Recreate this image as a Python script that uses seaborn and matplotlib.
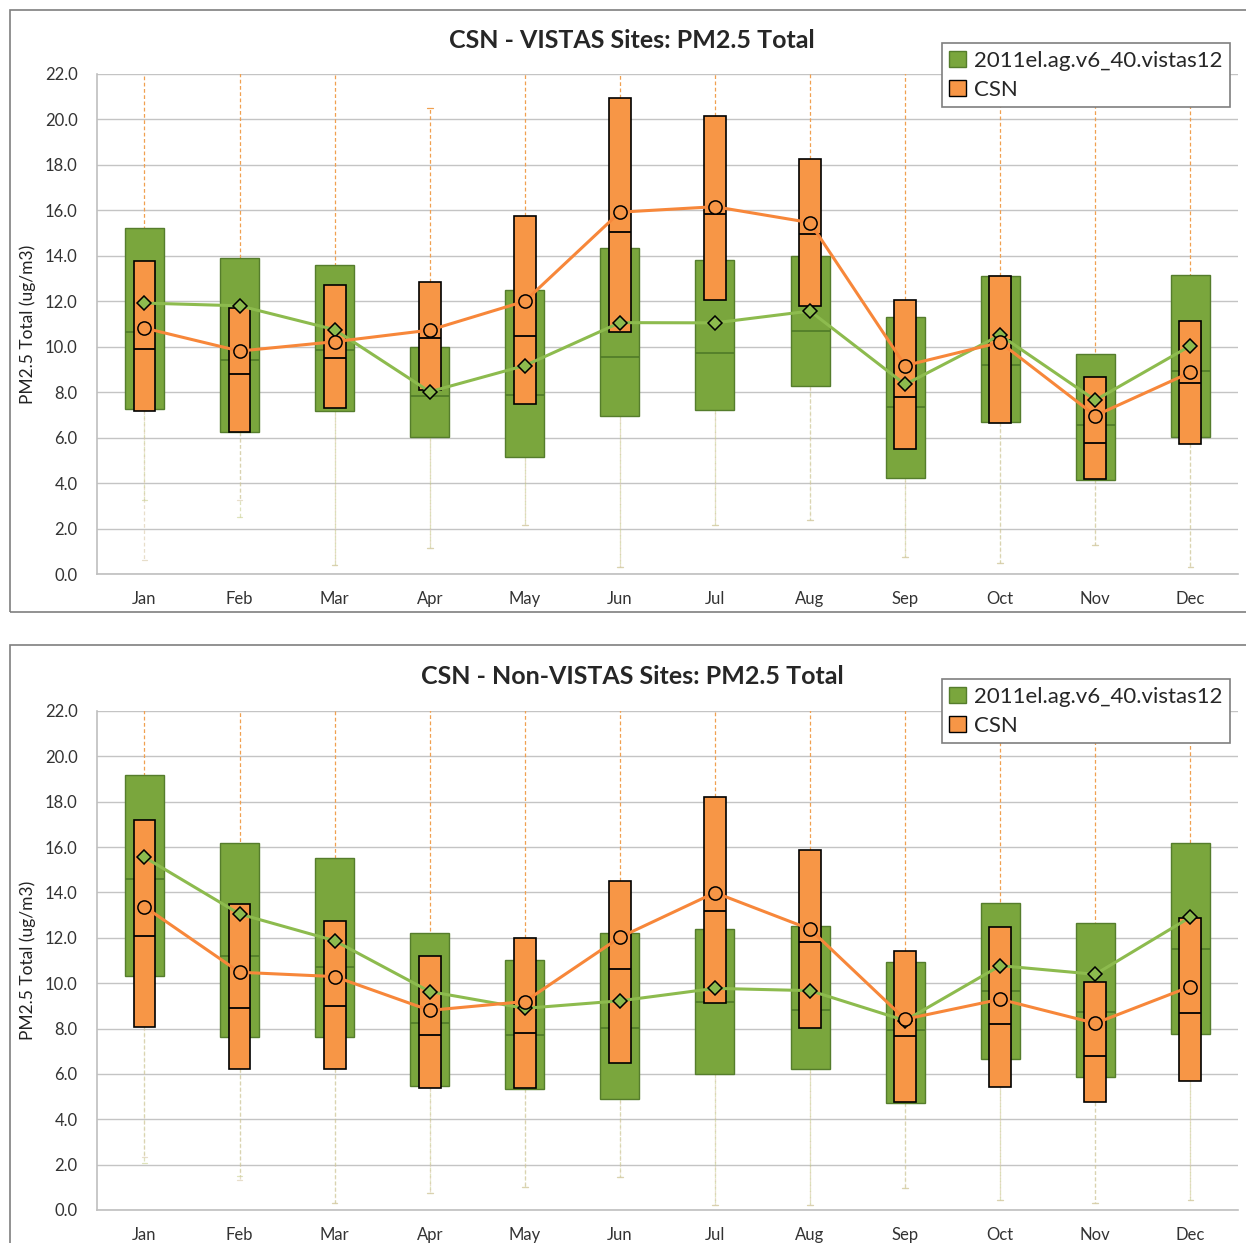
import numpy as np
import matplotlib
matplotlib.use("Agg")
import matplotlib.pyplot as plt
from matplotlib.patches import Patch, Rectangle
from matplotlib.ticker import FixedLocator
import seaborn as sns

# ------------------------------------------------------------
# data
# ------------------------------------------------------------
MONTHS = ['Jan', 'Feb', 'Mar', 'Apr', 'May', 'Jun',
          'Jul', 'Aug', 'Sep', 'Oct', 'Nov', 'Dec']
MODEL_NAME = '2011el.ag.v6_40.vistas12'
OBS_NAME = 'CSN'

# --- VISTAS sites ---
v_mod_q1 = [7.26, 6.25, 7.17, 6.03, 5.15, 6.95, 7.20, 8.25, 4.22, 6.70, 4.13, 6.04]
v_mod_med = [10.65, 9.41, 9.85, 7.83, 7.87, 9.55, 9.74, 10.70, 7.36, 9.20, 6.55, 8.95]
v_mod_q3 = [15.22, 13.90, 13.60, 10.00, 12.50, 14.35, 13.80, 14.00, 11.30, 13.10, 9.68, 13.15]
v_mod_mean = [11.92, 11.80, 10.75, 8.02, 9.17, 11.06, 11.05, 11.57, 8.34, 10.51, 7.65, 10.04]
v_mod_lo = [3.25, 2.50, 0.40, 1.14, 2.16, 0.30, 2.16, 2.38, 0.76, 0.48, 1.28, 0.32]
v_mod_hi = [23.0, 23.0, 23.0, 20.5, 23.0, 23.0, 23.0, 23.0, 23.0, 23.0, 23.0, 23.0]

v_obs_q1 = [7.17, 6.26, 7.30, 8.10, 7.48, 10.65, 12.05, 11.80, 5.48, 6.66, 4.17, 5.70]
v_obs_med = [9.90, 8.80, 9.50, 10.40, 10.47, 15.05, 15.85, 14.96, 7.80, 10.30, 5.78, 8.39]
v_obs_q3 = [13.77, 11.70, 12.70, 12.85, 15.75, 20.95, 20.15, 18.25, 12.05, 13.10, 8.68, 11.15]
v_obs_mean = [10.82, 9.81, 10.22, 10.73, 12.00, 15.92, 16.16, 15.46, 9.17, 10.19, 6.97, 8.87]
v_obs_lo = [0.60, 3.25, 0.40, 1.14, 2.16, 0.30, 2.16, 2.38, 0.76, 0.48, 1.28, 0.32]
v_obs_hi = [23.0, 23.0, 23.0, 20.5, 23.0, 23.0, 23.0, 23.0, 23.0, 23.0, 23.0, 23.0]

# --- Non-VISTAS sites ---
n_mod_q1 = [10.32, 7.64, 7.61, 5.48, 5.32, 4.89, 6.00, 6.20, 4.73, 6.64, 5.88, 7.75]
n_mod_med = [14.58, 11.20, 10.70, 8.23, 7.72, 8.01, 9.18, 8.82, 7.94, 9.66, 8.72, 11.51]
n_mod_q3 = [19.18, 16.18, 15.50, 12.20, 11.02, 12.20, 12.39, 12.52, 10.95, 13.52, 12.67, 16.17]
n_mod_mean = [15.55, 13.05, 11.87, 9.63, 8.89, 9.22, 9.77, 9.67, 8.35, 10.77, 10.39, 12.91]
n_mod_lo = [2.06, 1.50, 0.30, 0.74, 1.03, 1.47, 0.20, 0.20, 0.97, 0.44, 0.30, 0.44]
n_mod_hi = [23.0] * 12

n_obs_q1 = [8.08, 6.20, 6.20, 5.39, 5.39, 6.50, 9.11, 8.01, 4.78, 5.41, 4.78, 5.70]
n_obs_med = [12.08, 8.89, 9.00, 7.70, 7.79, 10.61, 13.18, 11.80, 7.67, 8.19, 6.79, 8.70]
n_obs_q3 = [17.20, 13.49, 12.76, 11.20, 11.98, 14.52, 18.20, 15.87, 11.43, 12.49, 10.07, 12.86]
n_obs_mean = [13.37, 10.48, 10.29, 8.80, 9.19, 12.02, 13.99, 12.38, 8.41, 9.29, 8.23, 9.85]
n_obs_lo = [2.35, 1.32, 0.30, 0.74, 1.03, 1.47, 0.20, 0.20, 0.97, 0.44, 0.30, 0.44]
n_obs_hi = [23.0] * 12

# ------------------------------------------------------------
# style
# ------------------------------------------------------------
GREEN = '#7aa63d'
GREEN_EDGE = '#557d2c'
GREEN_LINE = '#8dbb4e'
ORANGE = '#f79646'
ORANGE_LINE = '#f7873a'
GRID = '#c4c4c4'

sns.set_theme(style="white")
plt.rcParams['font.family'] = ['Lato', 'DejaVu Sans']


def make_stats(q1, med, q3, lo, hi):
    return [dict(q1=a, med=b, q3=c, whislo=d, whishi=e, fliers=[])
            for a, b, c, d, e in zip(q1, med, q3, lo, hi)]


def draw_panel(ax, mod, obs):
    pos = np.arange(len(MONTHS))

    # model boxes (wide, green)
    bm = ax.bxp(make_stats(*mod[:3], *mod[4:]), positions=pos, widths=0.41,
                patch_artist=True, showfliers=False, capwidths=0.06,
                boxprops=dict(facecolor=GREEN, edgecolor=GREEN_EDGE, linewidth=1.0),
                medianprops=dict(color='#4f7a28', linewidth=1.2),
                whiskerprops=dict(color='#bfc77a', linewidth=0.9, linestyle=(0, (3, 2))),
                capprops=dict(color='#bfc77a', linewidth=0.9))
    # obs boxes (narrow, orange)
    bo = ax.bxp(make_stats(*obs[:3], *obs[4:]), positions=pos, widths=0.23,
                patch_artist=True, showfliers=False, capwidths=0.06,
                boxprops=dict(facecolor=ORANGE, edgecolor='black', linewidth=1.2),
                medianprops=dict(color='black', linewidth=1.3),
                whiskerprops=dict(color='#f0a050', linewidth=0.9, linestyle=(0, (3, 2))),
                capprops=dict(color='#f0a050', linewidth=0.9))
    for w in bm['whiskers'] + bm['caps']:
        w.set_zorder(1)
    for b in bm['boxes'] + bm['medians']:
        b.set_zorder(2)
    for w in bo['whiskers'] + bo['caps']:
        w.set_zorder(1.5)
    for b in bo['boxes'] + bo['medians']:
        b.set_zorder(3)
    # lower whiskers are very faint in the original
    for w in bm['whiskers'][0::2] + bm['caps'][0::2]:
        w.set_alpha(0.5)
    for w in bo['whiskers'][0::2] + bo['caps'][0::2]:
        w.set_color('#d8c8a8')
        w.set_alpha(0.6)
    for w in bm['whiskers'][1::2] + bm['caps'][1::2]:
        w.set_alpha(0.0)

    # mean lines
    sns.lineplot(x=pos, y=mod[3], ax=ax, color=GREEN_LINE, linewidth=2.2,
                 marker='D', markersize=7, markerfacecolor=GREEN_LINE,
                 markeredgecolor='black', markeredgewidth=1.1, zorder=6)
    sns.lineplot(x=pos, y=obs[3], ax=ax, color=ORANGE_LINE, linewidth=2.2,
                 marker='o', markersize=9.5, markerfacecolor=ORANGE,
                 markeredgecolor='black', markeredgewidth=1.1, zorder=7)

    ax.set_xlim(-0.5, len(MONTHS) - 0.5)
    ax.set_ylim(0, 22)
    ax.set_yticks(np.arange(0, 22.1, 2))
    ax.set_yticklabels([f"{v:.1f}" for v in np.arange(0, 22.1, 2)], fontsize=12, color='#333333')
    ax.set_xticks(pos)
    ax.set_xticklabels(MONTHS, fontsize=12, color='#333333')
    ax.xaxis.set_minor_locator(FixedLocator(np.arange(-0.5, len(MONTHS), 1)))
    ax.tick_params(axis='x', which='major', length=0, pad=12)
    ax.tick_params(axis='x', which='minor', length=4, color='#bfbfbf', direction='out')
    ax.tick_params(axis='y', length=0, pad=14)
    ax.grid(axis='y', color=GRID, linewidth=1.0)
    ax.set_axisbelow(True)
    for s in ['top', 'right']:
        ax.spines[s].set_visible(False)
    for s in ['left', 'bottom']:
        ax.spines[s].set_color('#bfbfbf')
        ax.spines[s].set_linewidth(1.2)
    ax.set_ylabel('PM2.5 Total (ug/m3)', fontsize=12.5, color='#222222', labelpad=6)
    ax.set_xlabel('')


fig = plt.figure(figsize=(12.46, 12.43), dpi=100)

# panel frames
fig.add_artist(Rectangle((0.008, 0.5076), 1.0, 0.4844, transform=fig.transFigure,
                         fill=False, edgecolor='#7f7f7f', linewidth=1.2))
fig.add_artist(Rectangle((0.008, -0.01), 1.0, 0.4911, transform=fig.transFigure,
                         fill=False, edgecolor='#7f7f7f', linewidth=1.2))

ax1 = fig.add_axes([0.0778, 0.5382, 0.9157, 0.4023])
ax2 = fig.add_axes([0.0778, 0.02655, 0.9157, 0.4015])

draw_panel(ax1,
           [v_mod_q1, v_mod_med, v_mod_q3, v_mod_mean, v_mod_lo, v_mod_hi],
           [v_obs_q1, v_obs_med, v_obs_q3, v_obs_mean, v_obs_lo, v_obs_hi])
draw_panel(ax2,
           [n_mod_q1, n_mod_med, n_mod_q3, n_mod_mean, n_mod_lo, n_mod_hi],
           [n_obs_q1, n_obs_med, n_obs_q3, n_obs_mean, n_obs_lo, n_obs_hi])

fig.text(632 / 1246, 1 - 41 / 1243, 'CSN - VISTAS Sites: PM2.5 Total',
         ha='center', va='center', fontsize=18, fontweight='bold')
fig.text(632 / 1246, 1 - 677 / 1243, 'CSN - Non-VISTAS Sites: PM2.5 Total',
         ha='center', va='center', fontsize=18, fontweight='bold')

handles = [Patch(facecolor=GREEN, edgecolor=GREEN_EDGE, label=MODEL_NAME),
           Patch(facecolor=ORANGE, edgecolor='black', label=OBS_NAME)]
for ytop in (43, 679):
    leg = fig.legend(handles=handles, loc='upper right',
                     bbox_to_anchor=(1230 / 1246, 1 - ytop / 1243),
                     fontsize=16, frameon=True, fancybox=False, framealpha=1,
                     edgecolor='#7f7f7f', handlelength=0.75, handleheight=0.75,
                     handletextpad=0.35, labelspacing=0.4, borderpad=0.35,
                     borderaxespad=0)
    leg.get_frame().set_linewidth(1.2)
    leg.set_zorder(10)

fig.savefig('out.png', dpi=100)
